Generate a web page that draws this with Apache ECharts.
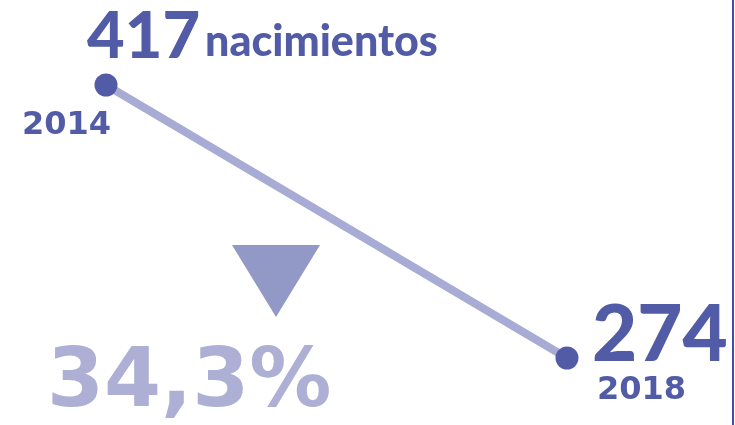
<!DOCTYPE html>
<html>
<head>
<meta charset="utf-8">
<script src="https://cdn.jsdelivr.net/npm/echarts@6/dist/echarts.min.js"></script>
<style>
html,body{margin:0;padding:0;background:#fff;}
#c{width:735px;height:425px;}
</style>
</head>
<body>
<div id="c"></div>
<script>
var years = ['2014', '2018'];
var births = [417, 274];
var unitLabel = 'nacimientos';
var changeLabel = '34,3%';

var chart = echarts.init(document.getElementById('c'), null, {renderer: 'canvas'});
var dark = '#525ca6';
var option = {
  animation: false,
  backgroundColor: '#ffffff',
  grid: {left: 106, right: 168, top: 85, bottom: 67},
  xAxis: {type: 'category', data: years, boundaryGap: false, show: false},
  yAxis: {type: 'value', min: 274, max: 417, show: false},
  series: [{
    type: 'line',
    data: births,
    symbol: 'circle',
    symbolSize: 23,
    itemStyle: {color: dark},
    lineStyle: {color: '#a8abd3', width: 8},
    z: 2
  }]
};
chart.setOption(option);

var p1 = chart.convertToPixel({gridIndex: 0}, [years[0], births[0]]);
var p2 = chart.convertToPixel({gridIndex: 0}, [years[1], births[1]]);

function txt(x, y, s, size, family, color, weight) {
  return {
    type: 'text', x: x, y: y, z: 10,
    style: {text: s, fill: color, font: (weight || 'bold') + ' ' + size + 'px ' + family, textAlign: 'left', textVerticalAlign: 'middle', verticalAlign: 'middle'}
  };
}

chart.setOption({
  graphic: [
    txt(p1[0] - 19, p1[1] - 48, String(births[0]), 65, 'Lato', dark, '900'),
    txt(p1[0] + 99, p1[1] - 43, unitLabel, 43, 'Lato', dark, '900'),
    txt(p1[0] - 84, p1[1] + 41, years[0], 32, '"DejaVu Sans"', dark),
    txt(p2[0] + 25, p2[1] - 22, String(births[1]), 78, 'Lato', dark, '900'),
    txt(p2[0] + 30, p2[1] + 33, years[1], 32, '"DejaVu Sans"', dark),
    txt(47, 385, changeLabel, 82, '"DejaVu Sans"', '#adb0d4'),
    {
      type: 'polygon', z: 5,
      shape: {points: [[232, 245], [320, 245], [276, 317]]},
      style: {fill: '#9399c6'}
    },
    {
      type: 'line', z: 5,
      shape: {x1: 733, y1: 0, x2: 733, y2: 425},
      style: {stroke: '#3f4db3', lineWidth: 2}
    }
  ]
});
</script>
</body>
</html>
